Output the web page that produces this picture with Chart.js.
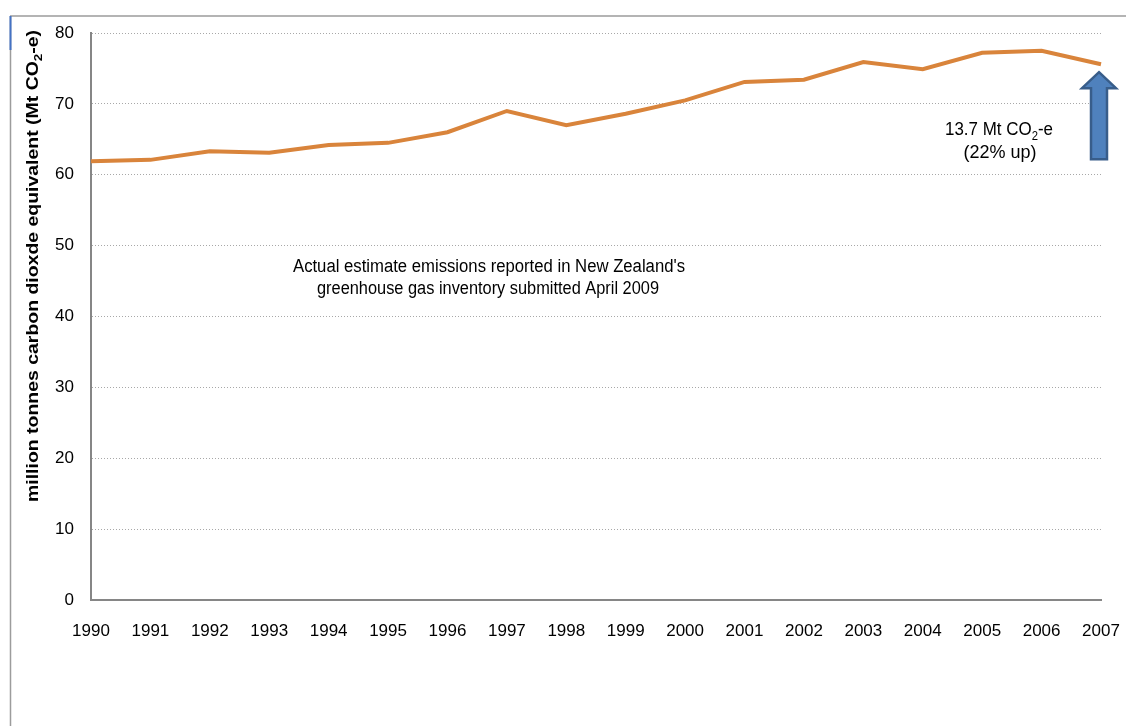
<!DOCTYPE html>
<html>
<head>
<meta charset="utf-8">
<title>New Zealand greenhouse gas emissions 1990–2007</title>
<script src="https://cdn.jsdelivr.net/npm/chart.js@4.4.1/dist/chart.umd.min.js"></script>
<style>
  html, body { margin: 0; padding: 0; background: #ffffff; }
  #wrap { width: 1126px; height: 726px; position: relative; }
</style>
</head>
<body>
<div id="wrap"><canvas id="chart" width="1126" height="726"></canvas></div>
<script>
// Inventory years and total emissions (Mt CO2-e)
const years = ['1990','1991','1992','1993','1994','1995','1996','1997','1998','1999',
               '2000','2001','2002','2003','2004','2005','2006','2007'];
const emissions = [61.9, 62.1, 63.3, 63.1, 64.2, 64.5, 66.0, 69.0, 67.0, 68.6,
                   70.5, 73.1, 73.4, 75.9, 74.9, 77.2, 77.5, 75.6];
const yTicks = [0, 10, 20, 30, 40, 50, 60, 70, 80];

// Text drawn on the chart
const yTitleParts = [{ t: 'million tonnes carbon dioxde equivalent (Mt CO' }, { t: '2', sub: true }, { t: '-e)' }];
const noteLines = ["Actual estimate emissions reported in New Zealand's",
                   'greenhouse gas inventory submitted April 2009'];
const changeLine1 = [{ t: '13.7 Mt CO' }, { t: '2', sub: true }, { t: '-e' }];
const changeLine2 = [{ t: '(22% up)' }];

const FONT = '"Liberation Sans", Arial, sans-serif';

// Draws a line of text with optional subscript segments, centred at cx,
// squeezed or stretched horizontally to targetWidth when given
function drawRich(ctx, parts, cx, baseline, size, bold, targetWidth) {
  const weight = bold ? 'bold ' : '';
  const main = weight + size + 'px ' + FONT;
  const sub = weight + Math.round(size * 0.68) + 'px ' + FONT;
  let total = 0;
  const widths = parts.map(p => {
    ctx.font = p.sub ? sub : main;
    const w = ctx.measureText(p.t).width;
    total += w;
    return w;
  });
  const sx = targetWidth ? targetWidth / total : 1;
  ctx.save();
  ctx.translate(cx - (total * sx) / 2, baseline);
  ctx.scale(sx, 1);
  ctx.textAlign = 'left';
  ctx.textBaseline = 'alphabetic';
  ctx.fillStyle = '#000000';
  let x = 0;
  parts.forEach((p, i) => {
    ctx.font = p.sub ? sub : main;
    ctx.fillText(p.t, x, p.sub ? size * 0.28 : 0);
    x += widths[i];
  });
  ctx.restore();
}

// Slide frame behind the chart
const framePlugin = {
  id: 'frame',
  beforeDraw(chart) {
    const ctx = chart.ctx;
    ctx.save();
    ctx.fillStyle = '#ffffff';
    ctx.fillRect(0, 0, chart.width, chart.height);
    ctx.strokeStyle = '#9c9c9c';
    ctx.lineWidth = 1.5;
    ctx.beginPath();
    ctx.moveTo(10, 16);
    ctx.lineTo(chart.width, 16);
    ctx.moveTo(10.5, 16);
    ctx.lineTo(10.5, chart.height);
    ctx.stroke();
    ctx.strokeStyle = '#4472c4';
    ctx.lineWidth = 2;
    ctx.beginPath();
    ctx.moveTo(10.5, 16);
    ctx.lineTo(10.5, 50);
    ctx.stroke();
    ctx.restore();
  }
};

// Axis title, notes and the block arrow showing the rise since 1990
const annotatePlugin = {
  id: 'annotate',
  afterDraw(chart) {
    const ctx = chart.ctx;
    const xs = chart.scales.x;
    const ys = chart.scales.y;

    // rotated y-axis title
    ctx.save();
    ctx.translate(38, 266);
    ctx.rotate(-Math.PI / 2);
    drawRich(ctx, yTitleParts, 0, 0, 16, true, 472);
    ctx.restore();

    // centre note
    drawRich(ctx, [{ t: noteLines[0] }], 489, 272, 18, false, 392);
    drawRich(ctx, [{ t: noteLines[1] }], 488, 294, 18, false, 342);

    // change label
    drawRich(ctx, changeLine1, 999, 135, 18, false, 108);
    drawRich(ctx, changeLine2, 1000, 158, 18, false, null);

    // block arrow from the 1990 level up to the 2007 level
    const last = emissions.length - 1;
    const cx = xs.getPixelForValue(last) - 2;
    const yBase = ys.getPixelForValue(emissions[0]) - 2;
    const yTip = ys.getPixelForValue(emissions[last]) + 8;
    const shaftHalf = 8, headHalf = 17, headLen = 16;
    ctx.save();
    ctx.beginPath();
    ctx.moveTo(cx, yTip);
    ctx.lineTo(cx + headHalf, yTip + headLen);
    ctx.lineTo(cx + shaftHalf, yTip + headLen);
    ctx.lineTo(cx + shaftHalf, yBase);
    ctx.lineTo(cx - shaftHalf, yBase);
    ctx.lineTo(cx - shaftHalf, yTip + headLen);
    ctx.lineTo(cx - headHalf, yTip + headLen);
    ctx.closePath();
    ctx.fillStyle = '#4f81bd';
    ctx.fill();
    ctx.lineWidth = 2.5;
    ctx.strokeStyle = '#385d8a';
    ctx.lineJoin = 'miter';
    ctx.stroke();
    ctx.restore();
  }
};

new Chart(document.getElementById('chart'), {
  type: 'line',
  data: {
    labels: years,
    datasets: [{
      label: 'Emissions',
      data: emissions,
      borderColor: '#d9843b',
      borderWidth: 4,
      pointRadius: 0,
      pointHoverRadius: 0,
      tension: 0,
      fill: false,
      clip: false
    }]
  },
  options: {
    responsive: false,
    animation: false,
    events: [],
    layout: { padding: { top: 33, right: 25, left: 0, bottom: 0 } },
    plugins: {
      legend: { display: false },
      tooltip: { enabled: false },
      title: { display: false }
    },
    scales: {
      x: {
        type: 'category',
        offset: false,
        grid: { display: false, drawTicks: false },
        border: { display: true, color: '#868686', width: 2 },
        ticks: {
          color: '#000000',
          font: { family: FONT, size: 17 },
          padding: 21,
          maxRotation: 0,
          autoSkip: false
        },
        afterFit(scale) {
          scale.height = 126;
          scale.paddingLeft = 0;
          scale.paddingRight = 0;
        }
      },
      y: {
        min: 0,
        max: 80,
        afterBuildTicks(scale) { scale.ticks = yTicks.map(v => ({ value: v })); },
        grid: { color: '#a8a8a8', lineWidth: 1, drawTicks: false },
        border: { display: true, color: '#868686', width: 2, dash: [1, 2] },
        ticks: {
          color: '#000000',
          font: { family: FONT, size: 17 },
          padding: 17
        },
        afterFit(scale) {
          scale.width = 91;
          scale.paddingTop = 0;
          scale.paddingBottom = 0;
        }
      }
    }
  },
  plugins: [framePlugin, annotatePlugin]
});
</script>
</body>
</html>
